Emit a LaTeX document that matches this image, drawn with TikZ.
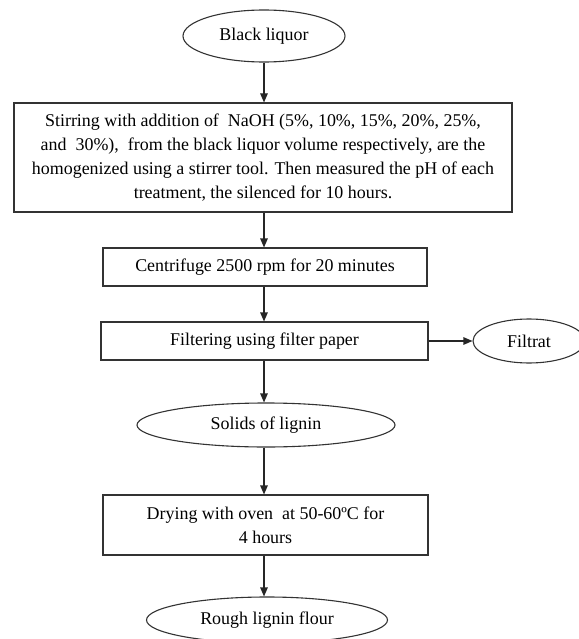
\documentclass[tikz,border=0pt]{standalone}
\usepackage{fontspec}
\setmainfont{Liberation Serif}
\usetikzlibrary{shapes.geometric,arrows.meta}
\begin{document}
\begin{tikzpicture}[x=1bp,y=-1bp,
  boxnode/.style={font=\fontsize{18}{24}\selectfont, draw=black!80, line width=1.1bp, inner sep=0pt, align=center},
  procbox/.style={boxnode, rectangle},
  termell/.style={boxnode, ellipse},
  flow/.style={draw=black!85, line width=1.1bp, -{Triangle[length=9bp,width=7.5bp]}}]
\useasboundingbox (0,0) rectangle (579,639);
\node[termell, minimum width=162bp, minimum height=52bp] (bl) at (264,36) {Black liquor};
\node[procbox, minimum width=498bp, minimum height=109bp] (stir) at (263,157.5)
  {Stirring with addition of~ NaOH (5\%, 10\%, 15\%, 20\%, 25\%,\\
   and~ 30\%),~ from the black liquor volume respectively, are the\\
   homogenized using a stirrer tool. Then measured the pH of each\\
   treatment, the silenced for 10 hours.};
\node[procbox, minimum width=324bp, minimum height=38bp] (cent) at (265,267) {Centrifuge 2500 rpm for 20 minutes};
\node[procbox, minimum width=327bp, minimum height=38bp] (filt) at (264.5,341) {Filtering using filter paper};
\node[termell, minimum width=112bp, minimum height=44bp] (filtrat) at (529,341) {Filtrat};
\node[termell, minimum width=258bp, minimum height=44bp] (solids) at (266,425) {Solids of lignin};
\node[procbox, minimum width=325bp, minimum height=60bp] (dry) at (265.5,525) {Drying with oven~ at 50-60ºC for\\ 4 hours};
\node[termell, minimum width=241bp, minimum height=46bp] (rough) at (267,620) {Rough lignin flour};
\coordinate (axis) at (264,0);
\draw[flow] (bl.south) -- (stir.north -| axis);
\draw[flow] (stir.south -| axis) -- (cent.north -| axis);
\draw[flow] (cent.south -| axis) -- (filt.north -| axis);
\draw[flow] (filt.south -| axis) -- (solids.north -| axis);
\draw[flow] (solids.south -| axis) -- (dry.north -| axis);
\draw[flow] (dry.south -| axis) -- (rough.north -| axis);
\draw[flow] (filt.east) -- (filtrat.west);
\end{tikzpicture}
\end{document}
